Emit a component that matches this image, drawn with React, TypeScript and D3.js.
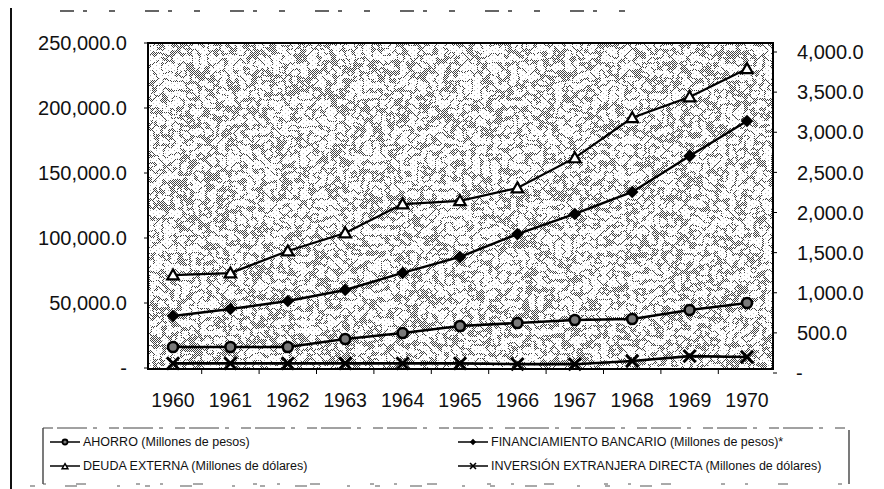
import React from 'react';
import * as d3 from 'd3';

const years = ['1960', '1961', '1962', '1963', '1964', '1965', '1966', '1967', '1968', '1969', '1970'];

// millones de pesos (eje izquierdo)
const ahorro = [16200, 16200, 16200, 22300, 26900, 32300, 34600, 36900, 37700, 44600, 50000];
const financiamiento = [40000, 45400, 51500, 60000, 73100, 85400, 103000, 118500, 135400, 163000, 190000];

// millones de dólares (eje derecho)
const deuda = [1220, 1245, 1520, 1745, 2105, 2145, 2305, 2680, 3180, 3440, 3790];
const inversion = [120, 120, 120, 120, 120, 120, 110, 110, 150, 210, 200];

const leftTicks = [0, 50000, 100000, 150000, 200000, 250000];
const rightTicks = [0, 500, 1000, 1500, 2000, 2500, 3000, 3500, 4000];

const legendItems = [
  { key: 'ahorro', label: 'AHORRO (Millones de pesos)' },
  { key: 'fin', label: 'FINANCIAMIENTO BANCARIO (Millones de pesos)*' },
  { key: 'deuda', label: 'DEUDA EXTERNA (Millones de dólares)' },
  { key: 'inv', label: 'INVERSIÓN EXTRANJERA DIRECTA (Millones de dólares)' },
];

const W = 884;
const H = 489;
const plot = { left: 148, top: 43, right: 773, bottom: 369 };
const FONT = '"Liberation Sans", Arial, sans-serif';

const fmt = (v: number) => (v === 0 ? '-' : d3.format(',.1f')(v));

const Marker: React.FC<{ kind: string; x: number; y: number; small?: boolean }> = ({ kind, x, y, small }) => {
  const s = small ? 0.5 : 1;
  if (kind === 'ahorro') {
    return <circle cx={x} cy={y} r={5 * s} fill="#7a7a7a" stroke="#000" strokeWidth={small ? 1.8 : 2.6} />;
  }
  if (kind === 'fin') {
    return (
      <path
        transform={`translate(${x},${y}) rotate(45)`}
        d={d3.symbol(d3.symbolSquare, 80 * s * s)()!}
        fill="#000"
      />
    );
  }
  if (kind === 'deuda') {
    return (
      <path
        transform={`translate(${x},${y + 1})`}
        d={d3.symbol(d3.symbolTriangle, 58 * s * s)()!}
        fill="#fff"
        stroke="#000"
        strokeWidth={small ? 1.5 : 2.2}
      />
    );
  }
  return (
    <path
      transform={`translate(${x},${y})`}
      d={d3.symbol(d3.symbolX, 100 * s * s)()!}
      fill="none"
      stroke="#000"
      strokeWidth={small ? 1.6 : 3}
    />
  );
};

export default function App() {
  const x = d3.scalePoint<string>().domain(years).range([173, 747]);
  const yL = d3.scaleLinear().domain([0, 250000]).range([368, 43]);
  const yR = d3.scaleLinear().domain([0, 4000]).range([373, 52]);

  const lineL = d3
    .line<number>()
    .x((_d, i) => x(years[i])!)
    .y((d) => yL(d));
  const lineR = d3
    .line<number>()
    .x((_d, i) => x(years[i])!)
    .y((d) => yR(d));

  const series = [
    { key: 'ahorro', data: ahorro, line: lineL, y: yL, w: 2.6 },
    { key: 'fin', data: financiamiento, line: lineL, y: yL, w: 2.4 },
    { key: 'deuda', data: deuda, line: lineR, y: yR, w: 2.2 },
    { key: 'inv', data: inversion, line: lineR, y: yR, w: 2.6 },
  ];

  const pw = plot.right - plot.left;
  const ph = plot.bottom - plot.top;
  const step = x.step();
  const band = '0 0 0 0 0 0 0 1 1 0 0 0 0 0 0 0';

  return (
    <svg width={W} height={H} style={{ position: 'absolute', left: 0, top: 0, background: '#fff' }} fontFamily={FONT}>
      <defs>
        <pattern id="dither" width="2" height="2" patternUnits="userSpaceOnUse">
          <rect width="1" height="1" fill="#444" />
          <rect x="1" y="1" width="1" height="1" fill="#444" />
        </pattern>
        <pattern id="speck" width="6" height="5" patternUnits="userSpaceOnUse">
          <rect width="1" height="1" fill="#b0b0b0" />
          <rect x="3" y="3" width="1" height="1" fill="#c8c8c8" />
        </pattern>
        <filter id="worms" x="0" y="0" width="1" height="1">
          <feTurbulence type="fractalNoise" baseFrequency="0.11" numOctaves="2" seed="5" />
          <feColorMatrix type="matrix" values="1 0 0 0 0  1 0 0 0 0  1 0 0 0 0  0 0 0 0 1" />
          <feComponentTransfer>
            <feFuncR type="discrete" tableValues={band} />
            <feFuncG type="discrete" tableValues={band} />
            <feFuncB type="discrete" tableValues={band} />
          </feComponentTransfer>
        </filter>
        <mask id="wormMask" maskUnits="userSpaceOnUse" x={plot.left} y={plot.top} width={pw} height={ph}>
          <rect x={plot.left} y={plot.top} width={pw} height={ph} fill="#fff" filter="url(#worms)" />
        </mask>
      </defs>

      {/* outer frame, faded like a scan */}
      <line x1={11} y1={8} x2={11} y2={489} stroke="#111" strokeWidth={2} />
      <line x1={60} y1={11} x2={640} y2={11} stroke="#333" strokeWidth={1.5} strokeDasharray="14 9 4 22 6 30" />
      <line x1={30} y1={486} x2={660} y2={486} stroke="#555" strokeWidth={1.2} strokeDasharray="5 30 12 40 3 25" />

      {/* plot background */}
      <rect x={plot.left} y={plot.top} width={pw} height={ph} fill="#fff" />
      <rect x={plot.left} y={plot.top} width={pw} height={ph} fill="url(#speck)" />
      <rect x={plot.left} y={plot.top} width={pw} height={ph} fill="url(#dither)" mask="url(#wormMask)" />
      <rect x={plot.left} y={plot.top} width={pw} height={ph} fill="none" stroke="#000" strokeWidth={2} />

      {/* left axis */}
      {leftTicks.map((t) => (
        <g key={`l${t}`}>
          <line x1={plot.left - 4} x2={plot.left} y1={yL(t)} y2={yL(t)} stroke="#000" strokeWidth={1} />
          <text x={127} y={yL(t)} dy="0.36em" textAnchor="end" fontSize={20} fill="#111">
            {fmt(t)}
          </text>
        </g>
      ))}

      {/* right axis */}
      {rightTicks.map((t) => (
        <g key={`r${t}`}>
          <line x1={plot.right} x2={plot.right + 4} y1={yR(t)} y2={yR(t)} stroke="#000" strokeWidth={1} />
          <text x={t === 0 ? 796 : 797} y={yR(t)} dy="0.36em" textAnchor="start" fontSize={20} fill="#111">
            {fmt(t)}
          </text>
        </g>
      ))}

      {/* x axis */}
      {years.map((yr, i) => (
        <g key={yr}>
          {i > 0 && (
            <line
              x1={x(yr)! - step / 2}
              x2={x(yr)! - step / 2}
              y1={plot.bottom}
              y2={plot.bottom + 5}
              stroke="#000"
              strokeWidth={1}
            />
          )}
          <text x={x(yr)} y={407} textAnchor="middle" fontSize={19.5} fill="#111">
            {yr}
          </text>
        </g>
      ))}

      {/* series */}
      {series.map((s) => (
        <g key={s.key}>
          <path d={s.line(s.data)!} fill="none" stroke="#000" strokeWidth={s.w} />
          {s.data.map((v, i) => (
            <Marker key={i} kind={s.key} x={x(years[i])!} y={s.y(v)} />
          ))}
        </g>
      ))}

      {/* legend */}
      <g>
        <line x1={43} y1={428} x2={43} y2={484} stroke="#222" strokeWidth={1.2} />
        <line x1={849} y1={430} x2={849} y2={484} stroke="#222" strokeWidth={1.2} />
        <line x1={43} y1={428} x2={849} y2={428} stroke="#444" strokeWidth={1} strokeDasharray="10 4 30 6 4 12" />
        <line x1={43} y1={484} x2={849} y2={484} stroke="#555" strokeWidth={1} strokeDasharray="3 30 10 50 4 20" />
        {legendItems.map((it, i) => {
          const col = i % 2;
          const row = Math.floor(i / 2);
          const lx = col === 0 ? 50 : 458;
          const ly = row === 0 ? 442 : 466;
          return (
            <g key={it.key}>
              <line x1={lx} x2={lx + 30} y1={ly} y2={ly} stroke="#000" strokeWidth={1.5} />
              <Marker kind={it.key} x={lx + 15} y={ly} small />
              <text x={lx + 33} y={ly} dy="0.35em" fontSize={12.5} fill="#111">
                {it.label}
              </text>
            </g>
          );
        })}
      </g>
    </svg>
  );
}
